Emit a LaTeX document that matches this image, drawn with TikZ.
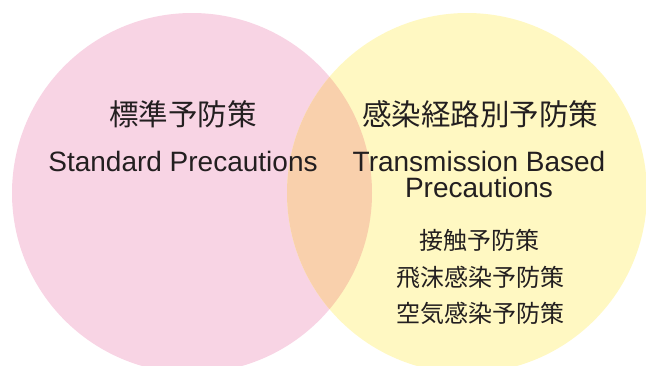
\documentclass[tikz,border=0pt]{standalone}
\usepackage{fontspec}
\setmainfont{Liberation Sans}
\newfontfamily\jp{Noto Sans CJK JP}
\definecolor{pinkc}{HTML}{F8D4E4}
\definecolor{yellowc}{HTML}{FFF8C2}
\definecolor{overlapc}{HTML}{F9D0AC}
\definecolor{txt}{HTML}{231F20}
\begin{document}
\begin{tikzpicture}[x=1pt,y=-1pt,
  lbl/.style={anchor=base, inner sep=0pt, text=txt},
  jtitle/.style={lbl, font=\jp\fontsize{29.5}{32}\selectfont},
  jsmall/.style={lbl, font=\jp\fontsize{24}{28}\selectfont},
  entext/.style={lbl, font=\fontsize{28}{30}\selectfont}]
\useasboundingbox (0,0) rectangle (646,365);
\fill[pinkc] (192,193) circle[radius=180pt];
\fill[yellowc] (467,193) circle[radius=180pt];
\begin{scope}
  \clip (192,193) circle[radius=180pt];
  \fill[overlapc] (467,193) circle[radius=180pt];
\end{scope}
\node[jtitle] (lt) at (183,125) {標準予防策};
\node[entext] (le) at (183,171) {Standard Precautions};
\node[jtitle] (rt) at (480,125) {感染経路別予防策};
\node[entext] (re1) at (479,171) {Transmission Based};
\node[entext] (re2) at (479,197.5) {Precautions};
\node[jsmall] (s1) at (479,249.5) {接触予防策};
\node[jsmall] (s2) at (480,286) {飛沫感染予防策};
\node[jsmall] (s3) at (480,322) {空気感染予防策};
\end{tikzpicture}
\end{document}
